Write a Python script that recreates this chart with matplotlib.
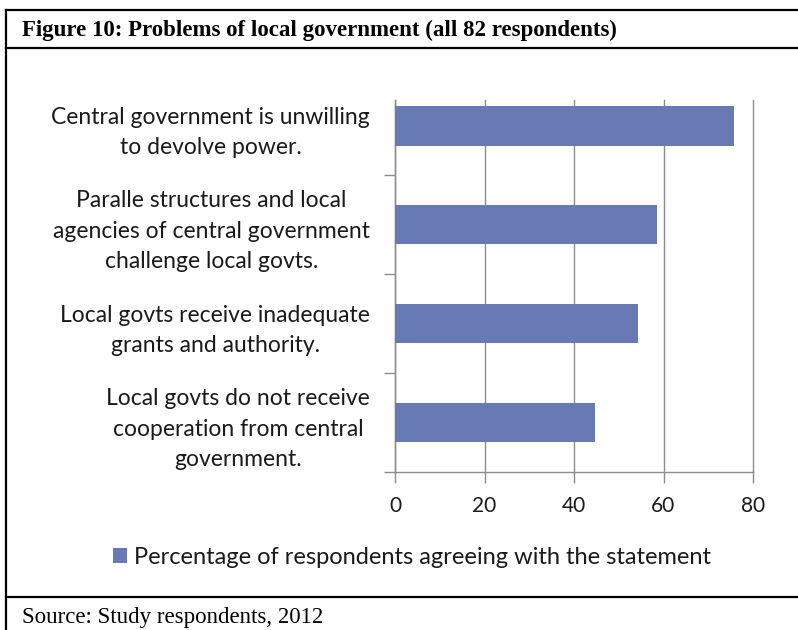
import matplotlib.pyplot as plt
from matplotlib.lines import Line2D

# Dados (ordem de baixo para cima)
categorias = [
    'Local govts do not receive\ncooperation from central\ngovernment.',
    'Local govts receive inadequate\ngrants and authority.',
    'Paralle structures and local\nagencies of central government\nchallenge local govts.',
    'Central government is unwilling\nto devolve power.',
]
percentagens = [44.6, 54.3, 58.5, 75.8]
xticks = [0, 20, 40, 60, 80]

titulo = 'Figure 10: Problems of local government (all 82 respondents)'
fonte = 'Source: Study respondents, 2012'
legenda = 'Percentage of respondents agreeing with the statement'

cor_barra = '#677AB3'
cor_grade = '#8C8C8C'
W, H = 798, 630

fig = plt.figure(figsize=(W / 100, H / 100), dpi=100)
ax = fig.add_axes([395 / W, 1 - 472 / H, (753 - 395) / W, (472 - 100) / H])

y = list(range(len(categorias)))
barras = ax.barh(y, percentagens, height=0.4, color=cor_barra, zorder=3,
                 label=legenda)

ax.set_xlim(0, 80)
ax.set_ylim(-0.5, 3.26)
ax.set_xticks(xticks)
ax.set_xticklabels([str(v) for v in xticks], family='Lato', fontsize=15,
                   color='#1a1a1a')
ax.set_yticks(y)
ax.set_yticklabels(categorias, family='Lato', fontsize=16.5, color='#1a1a1a',
                   multialignment='center', linespacing=1.55)
ax.set_yticks([-0.5, 0.5, 1.5, 2.5], minor=True)
ax.tick_params(axis='y', which='major', length=0, pad=18)
ax.tick_params(axis='y', which='minor', length=8, color=cor_grade, width=1)
ax.tick_params(axis='x', length=8, color=cor_grade, width=1, pad=9)

ax.grid(axis='x', color=cor_grade, linewidth=1, zorder=0)
for g in ax.xaxis.get_gridlines():
    g.set_clip_on(False)
for s in ['top', 'right']:
    ax.spines[s].set_visible(False)
for s in ['left', 'bottom']:
    ax.spines[s].set_color(cor_grade)
    ax.spines[s].set_linewidth(1)

fig.legend(handles=[barras], loc='center', bbox_to_anchor=(412 / W, 1 - 557 / H),
           frameon=False, prop={'family': 'Lato', 'size': 17},
           handlelength=0.6, handleheight=0.6, handletextpad=0.3,
           labelcolor='#1a1a1a')

# Moldura da tabela
def linha(x0, y0, x1, y1):
    fig.add_artist(Line2D([x0 / W, x1 / W], [1 - y0 / H, 1 - y1 / H],
                          color='black', linewidth=1.6, transform=fig.transFigure))

linha(6, 10, W + 5, 10)
linha(6, 48, W + 5, 48)
linha(6, 597, W + 5, 597)
linha(6, 10, 6, H + 5)

fig.text(22 / W, 1 - 30 / H, titulo, family='Liberation Serif', weight='bold',
         fontsize=16.5, va='center', ha='left')
fig.text(22 / W, 1 - 617 / H, fonte, family='Liberation Serif',
         fontsize=16.5, va='center', ha='left')

fig.savefig('out.png', dpi=100)
